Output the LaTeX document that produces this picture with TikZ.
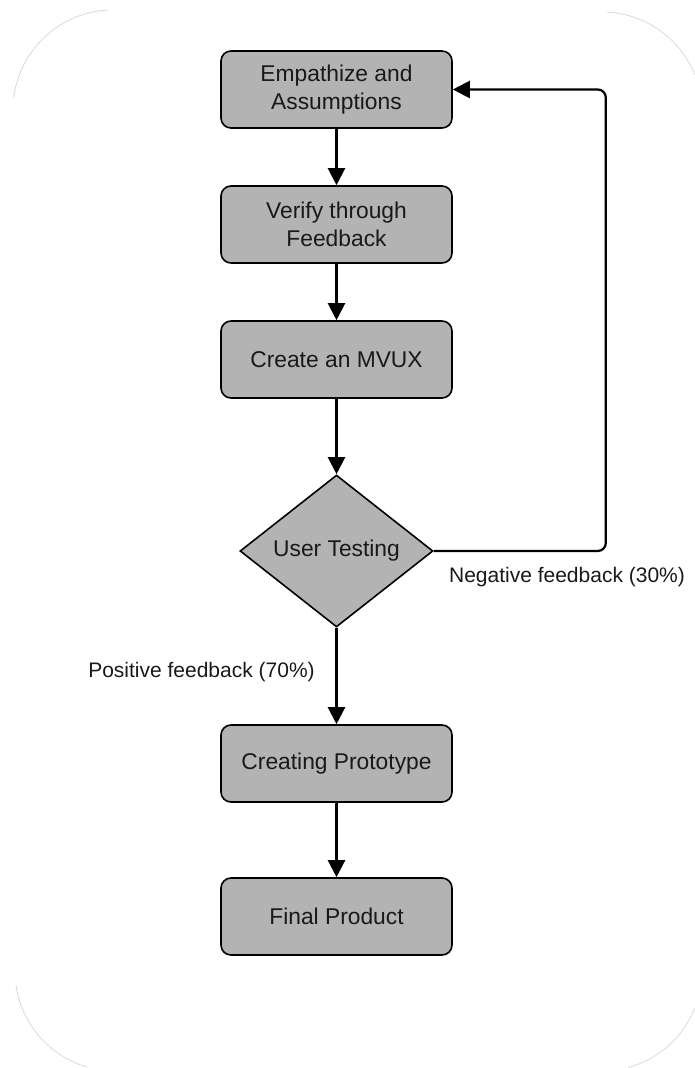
\documentclass[tikz,border=0pt]{standalone}
\usepackage{fontspec}
\setmainfont{Liberation Sans}
\usetikzlibrary{arrows.meta,shapes.geometric,calc}
\definecolor{boxfill}{HTML}{B3B3B3}
\definecolor{frameline}{HTML}{D9D9D9}
\begin{document}
\begin{tikzpicture}[x=1pt,y=-1pt,
  procbox/.style={draw=black,line width=1.6pt,fill=boxfill,rounded corners=10pt,
    minimum width=231pt,minimum height=77pt,inner sep=0pt,align=center,
    font=\fontsize{22.8}{27.5}\selectfont,text=black!90},
  decide/.style={draw=black,line width=1.6pt,fill=boxfill,diamond,
    minimum width=193pt,minimum height=152pt,inner sep=0pt,
    font=\fontsize{22.8}{27.5}\selectfont,text=black!90},
  flow/.style={draw=black,line width=2.2pt,-{Triangle[width=17pt,length=17pt]}},
  lbl/.style={font=\fontsize{21}{25}\selectfont,text=black!90,inner sep=0pt},
  frame/.style={draw=frameline,line width=0.8pt}]
\useasboundingbox (0,0) rectangle (695,1068);
% faint rounded frame corners
\draw[frame] ([shift={(113pt,-110pt)}]173:100pt) arc[start angle=173,end angle=93,radius=100pt];
\draw[frame] ([shift={(602pt,-112pt)}]87:100pt) arc[start angle=87,end angle=22,radius=100pt];
\draw[frame] ([shift={(115pt,-971pt)}]188:100pt) arc[start angle=188,end angle=254,radius=100pt];
\draw[frame] ([shift={(602pt,-971pt)}]-22:100pt) arc[start angle=-22,end angle=-75,radius=100pt];
% nodes
\node[procbox] (b1) at (336.5,89.5) {Empathize and\\Assumptions};
\node[procbox] (b2) at (336.5,224.5) {Verify through\\Feedback};
\node[procbox] (b3) at (336.5,359.5) {Create an MVUX};
\node[decide] (dia) at (336.5,551) {User Testing};
\node[procbox] (b4) at (336.5,763.5) {Creating Prototype};
\node[procbox] (b5) at (336.5,916.5) {Final Product};
% connectors
\draw[flow] (b1.south) -- (b2.north);
\draw[flow] (b2.south) -- (b3.north);
\draw[flow] (b3.south) -- (dia.north);
\draw[flow] (dia.south) -- (b4.north);
\draw[flow] (b4.south) -- (b5.north);
\draw[flow,rounded corners=8pt] (dia.east) -- ++(172,0) |- (b1.east);
% labels
\node[lbl] (neg) at (567,577) {Negative feedback (30\%)};
\node[lbl] (pos) at (201.5,672) {Positive feedback (70\%)};
\end{tikzpicture}
\end{document}
